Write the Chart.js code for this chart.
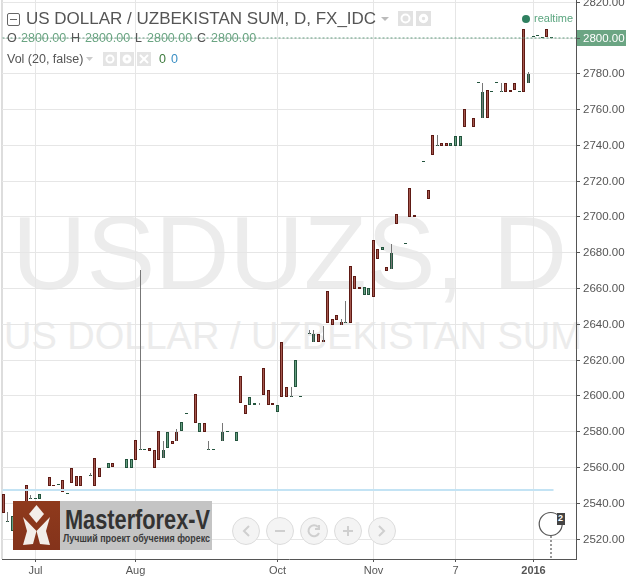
<!DOCTYPE html>
<html>
<head>
<meta charset="utf-8">
<title>USDUZS, D</title>
<script src="https://cdn.jsdelivr.net/npm/chart.js@4"></script>
<style>
html, body { margin: 0; padding: 0; background: #fff; overflow: hidden; }
#stage { position: relative; width: 626px; height: 576px; overflow: hidden; font-family: "Liberation Sans", Arial, sans-serif; }
#stage div, #stage span, #stage svg { position: absolute; white-space: nowrap; }
#chart { position: absolute; left: 0; top: 0; z-index: 2; }
.wm { color: #ececec; z-index: 0; }
.over { z-index: 3; }
.lbl { color: #555; font-size: 12.5px; line-height: 14px; }
.val { color: #6ba583; font-size: 12.5px; line-height: 14px; }
</style>
</head>
<body>
<div id="stage">
  <!-- left edge, watermark and price tag sit under the transparent canvas -->
  <div style="left:1px;top:0;width:2px;height:559px;background:#ddd;z-index:0"></div>
  <div class="wm" id="wm1" style="left:12px;top:196px;font-size:103px;line-height:115px">USDUZS, D</div>
  <div class="wm" id="wm2" style="left:4px;top:315px;font-size:38px;line-height:42px;width:576px;overflow:hidden">US DOLLAR / UZBEKISTAN SUM</div>
  <div style="left:577px;top:30px;width:49px;height:16px;background:#6ba583;z-index:0"></div>

  <canvas id="chart" width="626" height="576"></canvas>

  <!-- header -->
  <div class="over" style="left:7px;top:13px;width:11px;height:11px;border:1px solid #666;border-radius:2px"></div>
  <div class="over" style="left:10px;top:19px;width:7px;height:1px;background:#666"></div>
  <div class="over" style="left:26px;top:9px;font-size:17px;line-height:20px;color:#555">US DOLLAR / UZBEKISTAN SUM, D, FX_IDC</div>
  <svg class="over" style="left:380px;top:17px" width="10" height="5"><path d="M1 0H9L5 4Z" fill="#bbb"/></svg>
  <div class="over" style="left:398px;top:11px;width:15px;height:15px;background:#e2e2e2"></div>
  <div class="over" style="left:416px;top:11px;width:15px;height:15px;background:#e2e2e2"></div>
  <svg class="over" style="left:398px;top:11px" width="34" height="15"><circle cx="7.5" cy="7.5" r="4" fill="none" stroke="#fff" stroke-width="2"/><circle cx="25.5" cy="7.5" r="3.2" fill="none" stroke="#fff" stroke-width="3"/></svg>

  <div class="lbl over" style="left:7px;top:31px">O</div><div class="val over" style="left:21px;top:31px">2800.00</div>
  <div class="lbl over" style="left:71px;top:31px">H</div><div class="val over" style="left:85px;top:31px">2800.00</div>
  <div class="lbl over" style="left:135px;top:31px">L</div><div class="val over" style="left:147px;top:31px">2800.00</div>
  <div class="lbl over" style="left:197px;top:31px">C</div><div class="val over" style="left:211px;top:31px">2800.00</div>

  <div class="lbl over" style="left:7px;top:52px">Vol (20, false)</div>
  <svg class="over" style="left:85px;top:57px" width="10" height="5"><path d="M1 0H8L4.500 4Z" fill="#ccc"/></svg>
  <div class="over" style="left:103px;top:52px;width:14px;height:14px;background:#e4e4e4"></div>
  <div class="over" style="left:120px;top:52px;width:14px;height:14px;background:#e4e4e4"></div>
  <div class="over" style="left:137px;top:52px;width:14px;height:14px;background:#e4e4e4"></div>
  <svg class="over" style="left:103px;top:52px" width="48" height="14"><circle cx="7" cy="7" r="3.500" fill="none" stroke="#fff" stroke-width="2"/><circle cx="24" cy="7" r="3" fill="none" stroke="#fff" stroke-width="3"/><path d="M37 3L45 11M45 3L37 11" stroke="#fff" stroke-width="2"/></svg>
  <div class="over" style="left:159px;top:52px;font-size:12.5px;line-height:14px;color:#3d7a3d">0</div>
  <div class="over" style="left:171px;top:52px;font-size:12.5px;line-height:14px;color:#3a8fc4">0</div>

  <div class="over" style="left:522px;top:15px;width:8px;height:8px;border-radius:50%;background:#2f8060"></div>
  <div class="over" style="left:534px;top:12px;font-size:11px;line-height:13px;color:#5aa57f">realtime</div>

  <!-- logo -->
  <svg class="over" style="left:13px;top:501px" width="199" height="49" viewBox="0 0 199 49">
    <defs><linearGradient id="br" x1="0" y1="0" x2="0" y2="1"><stop offset="0" stop-color="#8f3a1c"/><stop offset="1" stop-color="#84331b"/></linearGradient></defs>
    <rect x="47" width="152" height="49" fill="#c4c4c4"/>
    <rect width="47" height="49" fill="url(#br)"/>
    <path d="M23.500 4L31 13L23.500 22L16 13Z" fill="#f3eee9"/>
    <path d="M10 16L23.500 30L20 43L10 44L14 30Z" fill="#f3eee9"/>
    <path d="M37 16L23.500 30L27 43L37 44L33 30Z" fill="#f3eee9"/>
    <text x="52" y="28" font-family="Liberation Sans, Arial, sans-serif" font-weight="700" font-size="28" fill="#333" textLength="145" lengthAdjust="spacingAndGlyphs">Masterforex-V</text>
    <text x="50" y="41" font-family="Liberation Sans, Arial, sans-serif" font-weight="700" font-size="11" fill="#3a3a3a" textLength="147" lengthAdjust="spacingAndGlyphs">Лучший проект обучения форекс</text>
  </svg>

  <!-- nav buttons -->
  <svg class="over" style="left:225px;top:510px" width="180" height="42" fill="#f4f4f4" stroke="#dcdcdc">
    <circle cx="21" cy="21" r="13.500"/><circle cx="55" cy="21" r="13.500"/><circle cx="89" cy="21" r="13.500"/><circle cx="123" cy="21" r="13.500"/><circle cx="157" cy="21" r="13.500"/>
    <g fill="none" stroke="#cfcfcf" stroke-width="2">
      <path d="M24 16L19 21L24 26"/>
      <path d="M50 21H60"/>
      <path d="M93 17A5.500 5.500 0 1 0 94 23M94 15V19H90"/>
      <path d="M118 21H128M123 16V26"/>
      <path d="M154 16L159 21L154 26"/>
    </g>
  </svg>

  <!-- event marker -->
  <svg class="over" style="left:535px;top:510px" width="34" height="50">
    <path d="M16 26V49" stroke="#999" stroke-width="2" stroke-dasharray="2 2" fill="none"/>
    <circle cx="15.700" cy="14" r="11.500" fill="#fff" stroke="#555" stroke-width="1.200"/>
    <rect x="22" y="3" width="8" height="12" fill="#444"/>
  </svg>
  <div class="over" style="left:558px;top:513px;font-size:9px;line-height:11px;font-weight:bold;color:#fff">2</div>
</div>

<script>
// one entry per trading day, null = no bar that day
// red bars: open below close, green bars and dashes: open above close
const opens = [
  2534.4, 2529.9, 2532.5, null, null, 2540, 2542.6, 2542.9, 2545.2, null,
  2549.5, 2549.5, 2550.7, 2546.1, 2545.7, 2551.1, 2549.5, 2549.5, 2550.2, 2555.4,
  2549.5, 2554.5, 2555.2, 2562.5, 2560, 2570.3, 2564.7, 2564.2, 2564.2, 2564,
  2569.8, 2569.8, 2569, 2559.5, 2564, 2569.3, 2579.3, 2572.6, 2574.3, 2584.9,
  2590.4, 2596, 2584.4, 2584.4, 2579.3, 2569.8, 2569.8, 2606.1, 2579.3, 2580.4,
  2579.8, 2579.3, 2595.5, 2589.4, 2599.4, 2595.5, 2594.9, 2600.3, 2594.4, 2594.4,
  2594.4, 2599.4, 2599.4, 2599.9, 2619.6, 2599.9, null, 2635.1, 2634.6, 2629.6,
  2629.6, 2640.6, 2639.5, 2642.3, 2639.5, 2641.1, 2640.6, 2659.6, 2659.6, 2660.4,
  2659.8, 2654.8, 2676.4, 2682.7, 2669.3, 2679.4, 2695.6, 2686, 2684.9, 2699.5,
  2699.5, 2701.1, 2730.9, 2709.6, 2734.3, 2740, 2739.5, 2739.5, 2740.9, 2744.8,
  2744.8, 2749.8, 2755.3, 2749.8, 2774.9, 2769.4, 2754.8, 2769.9, 2774.9, 2769.9,
  2769.4, 2769.4, 2770.5, 2769.9, 2769.4, 2779.4, 2800.6, 2801.3, 2800.5, 2800.4,
  2800.5
];
const closes = [
  2545.2, 2529.4, 2524.3, null, null, 2550.2, 2542.1, 2542.4, 2542.2, null,
  2554.5, 2550.2, 2550.2, 2552.5, 2545.2, 2559.7, 2554.7, 2554.7, 2549.7, 2554.9,
  2564.8, 2559.7, 2554.7, 2559.5, 2562.5, 2569.8, 2564.2, 2559.5, 2559.5, 2574.9,
  2569.3, 2569.3, 2570.4, 2569.3, 2579.9, 2565.1, 2570.4, 2574.3, 2579.3, 2579.9,
  2589.9, 2595.5, 2600.6, 2579.3, 2584.4, 2569.3, 2569.3, 2605.6, 2574.3, 2579.3,
  2579.3, 2574.3, 2610.8, 2594.4, 2594.4, 2594.4, 2594.4, 2615.6, 2602.8, 2595.5,
  2590.5, 2629.6, 2604.5, 2599.4, 2604.5, 2599.4, null, 2634.6, 2629.6, 2634.6,
  2630.7, 2658.1, 2642.5, 2644.7, 2640.8, 2640.6, 2672.1, 2666.5, 2660.4, 2656.2,
  2656.2, 2686.6, 2681.6, 2681.4, 2671.5, 2670.4, 2701.2, 2685.5, 2684.4, 2715.7,
  2700.6, 2700.6, 2730.4, 2714.6, 2745.5, 2739.5, 2740.9, 2740.9, 2739.5, 2739.5,
  2739.5, 2759.9, 2754.8, 2754.8, 2774.4, 2754.8, 2770.5, 2769.4, 2774.4, 2769.4,
  2774.4, 2770.5, 2774.4, 2769.4, 2804.6, 2774.4, 2800.1, 2800.8, 2800, 2804.6,
  2800
];
const highs = [
  null, 2535, null, null, null, null, 2544.6, null, null, null,
  null, null, null, null, null, null, null, null, null, 2556.6,
  null, null, null, null, null, null, null, null, null, null,
  2670, null, null, null, null, 2574.4, null, null, 2581, null,
  null, null, null, null, null, 2574.4, null, null, 2584.4, null,
  null, null, null, null, null, null, 2595.5, null, null, null,
  null, null, null, 2604.5, null, null, null, 2636.4, 2636.4, null,
  2638.7, null, null, null, 2642.5, 2652.7, null, null, null, null,
  null, null, null, null, null, 2684.4, null, null, null, null,
  null, null, null, null, null, 2745.5, null, null, null, null,
  null, null, null, null, null, 2774.4, null, null, null, 2774.4,
  null, null, null, null, null, 2780.5, null, null, null, null,
  null
];

const barIndex = opens.map(function (_, i) { return i; });
const yTicks = [2520, 2540, 2560, 2580, 2600, 2620, 2640, 2660, 2680, 2700, 2720, 2740, 2760, 2780, 2800, 2820];
const xTickIndex = [7, 29, 60, 81, 99, 116];
const xTickLabels = ['Jul', 'Aug', 'Oct', 'Nov', '7', '2016'];
const lastPrice = 2800;
const drawnLevel = 2547.3;
const drawnFrom = -0.3;
const drawnTo = 120.4;

const UP_FILL = '#a5584f', UP_EDGE = '#5e1a14';
const DOWN_FILL = '#679f82', DOWN_EDGE = '#23543d';

// snap to whole pixels, otherwise the 3px bodies turn to mush
function snapX(scale) {
    const orig = scale.getPixelForValue;
    scale.getPixelForValue = function (v) { return Math.floor(orig.call(scale, v)) + 0.5; };
}
function snapY(scale) {
    const orig = scale.getPixelForValue;
    scale.getPixelForValue = function (v) { return Math.round(orig.call(scale, v)); };
}
// tick labels would otherwise push the plot in from the canvas edges
function noPadding(scale) {
    scale.paddingTop = scale.paddingBottom = scale.paddingLeft = scale.paddingRight = 0;
}

const bodies = barIndex.map(function (i) {
    return opens[i] === null ? null : { x: i, y: [opens[i], closes[i]] };
}).filter(Boolean);
const wicks = barIndex.map(function (i) {
    return highs[i] === null ? null : { x: i, y: [Math.min(opens[i], closes[i]), highs[i]] };
}).filter(Boolean);

function isUp(ctx) {
    const v = ctx.raw && ctx.raw.y;
    return v && v[1] > v[0];
}

const myChart = new Chart(document.getElementById('chart').getContext('2d'), {
    type: 'bar',
    data: {
        datasets: [
            {
                type: 'line',
                data: [{ x: drawnFrom, y: drawnLevel }, { x: drawnTo, y: drawnLevel }],
                borderColor: '#c3e3f4',
                borderWidth: 2,
                pointRadius: 0
            },
            {
                type: 'line',
                data: [{ x: drawnFrom, y: lastPrice }, { x: 125.4, y: lastPrice }],
                borderColor: '#5f9a7c',
                borderWidth: 1,
                borderDash: [2, 2],
                pointRadius: 0
            },
            {
                data: wicks,
                grouped: false,
                barThickness: 1,
                backgroundColor: '#777',
                borderWidth: 0,
                inflateAmount: 0
            },
            {
                data: bodies,
                grouped: false,
                barThickness: 3,
                borderWidth: 1,
                borderSkipped: false,
                inflateAmount: 0,
                backgroundColor: function (ctx) { return isUp(ctx) ? UP_FILL : DOWN_FILL; },
                borderColor: function (ctx) { return isUp(ctx) ? UP_EDGE : DOWN_EDGE; }
            }
        ]
    },
    options: {
        responsive: false,
        animation: false,
        events: [],
        layout: { padding: { left: 2, top: 0, right: 0, bottom: 0 } },
        plugins: { legend: { display: false }, title: { display: false }, tooltip: { enabled: false } },
        scales: {
            x: {
                type: 'linear',
                offset: false,
                min: -0.3,
                max: 125.4,
                afterFit: function (scale) { scale.height = 17; noPadding(scale); },
                afterBuildTicks: function (scale) {
                    scale.ticks = xTickIndex.map(function (v) { return { value: v }; });
                },
                afterUpdate: snapX,
                border: { color: '#555', width: 1 },
                grid: { offset: false, color: '#e6e6e6', tickColor: '#555', tickLength: 3 },
                ticks: {
                    autoSkip: false,
                    maxRotation: 0,
                    padding: 2,
                    color: '#555',
                    font: function (ctx) {
                        return { family: '"Liberation Sans", Arial, sans-serif', size: 11, weight: ctx.tick && ctx.tick.value === 116 ? 'bold' : 'normal' };
                    },
                    callback: function (v) { return xTickLabels[xTickIndex.indexOf(v)]; }
                }
            },
            y: {
                position: 'right',
                min: 2508.6,
                max: 2820.96,
                afterFit: function (scale) { scale.width = 50; noPadding(scale); },
                afterBuildTicks: function (scale) {
                    scale.ticks = yTicks.map(function (v) { return { value: v }; });
                },
                afterUpdate: snapY,
                border: { color: '#555', width: 1 },
                grid: { color: '#e6e6e6', tickColor: '#555', tickLength: 4 },
                ticks: {
                    padding: 3,
                    labelOffset: 1,
                    font: { family: '"Liberation Sans", Arial, sans-serif', size: 11.5 },
                    color: function (ctx) { return ctx.tick && ctx.tick.value === lastPrice ? '#fff' : '#555'; },
                    callback: function (v) { return v.toFixed(2); }
                }
            }
        }
    }
});
</script>
</body>
</html>
